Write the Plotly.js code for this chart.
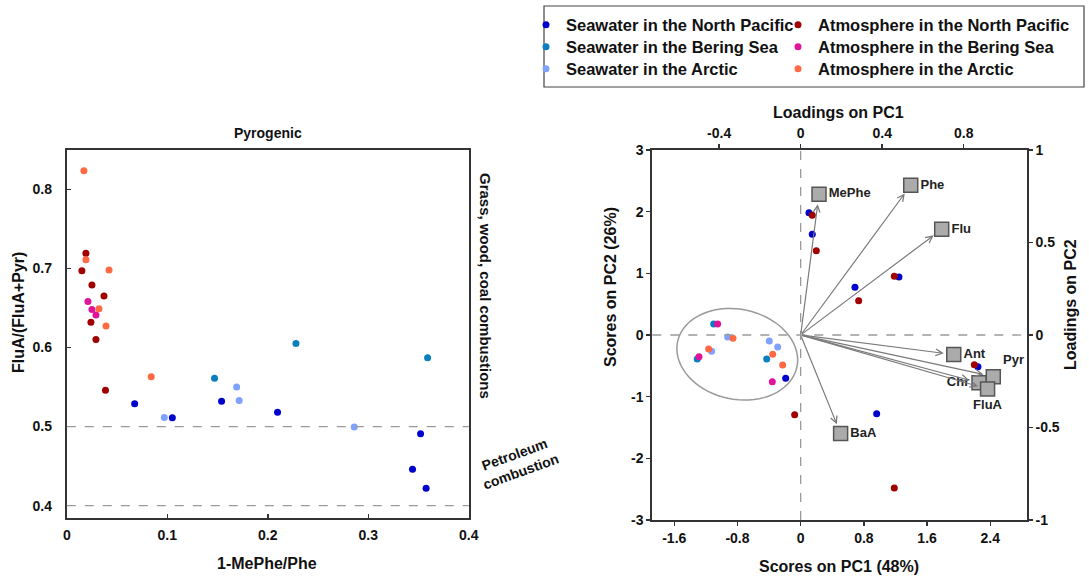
<!DOCTYPE html>
<html>
<head>
<meta charset="utf-8">
<script src="https://cdn.plot.ly/plotly-3.0.1.min.js"></script>
<style>html,body{margin:0;padding:0;background:#fff;} #chart{width:1089px;height:585px;}</style>
</head>
<body>
<div id="chart"></div>
<script>
// ---------- Data ----------
const groupNames = [
  "Seawater in the North Pacific", "Seawater in the Bering Sea", "Seawater in the Arctic",
  "Atmosphere in the North Pacific", "Atmosphere in the Bering Sea", "Atmosphere in the Arctic"
];
const groupColors = ["#0000CC", "#0A7FC0", "#7FA2FF", "#A00000", "#E0149B", "#FF6A45"];

// Left panel: 1-MePhe/Phe (x) vs FluA/(FluA+Pyr) (y)
const ratioX_swNP  = [0.0675, 0.154, 0.105, 0.2097, 0.352, 0.344, 0.3575];
const ratioY_swNP  = [0.529, 0.532, 0.511, 0.518, 0.491, 0.446, 0.422];
const ratioX_swBS  = [0.228, 0.359, 0.147];
const ratioY_swBS  = [0.605, 0.587, 0.561];
const ratioX_swAR  = [0.169, 0.1715, 0.097, 0.286];
const ratioY_swAR  = [0.550, 0.533, 0.5115, 0.4995];
const ratioX_atNP  = [0.019, 0.015, 0.025, 0.037, 0.024, 0.029, 0.0385];
const ratioY_atNP  = [0.719, 0.697, 0.679, 0.665, 0.632, 0.610, 0.546];
const ratioX_atBS  = [0.021, 0.025, 0.029];
const ratioY_atBS  = [0.658, 0.648, 0.641];
const ratioX_atAR  = [0.017, 0.019, 0.042, 0.032, 0.039, 0.084];
const ratioY_atAR  = [0.8235, 0.711, 0.698, 0.649, 0.627, 0.563];
const thresholds   = [0.5, 0.4];

// Right panel: PCA scores
const pc1_swNP = [0.105, 0.147, 0.687, 1.244, 2.244, 0.962, -0.190];
const pc2_swNP = [1.983, 1.633, 0.773, 0.940, -0.513, -1.276, -0.703];
const pc1_swBS = [-1.101, -1.309, -0.430];
const pc2_swBS = [0.178, -0.389, -0.389];
const pc1_swAR = [-0.924, -1.127, -0.397, -0.291];
const pc2_swAR = [-0.032, -0.265, -0.097, -0.195];
const pc1_atNP = [0.147, 0.198, 0.734, 1.185, 2.198, -0.076, 1.185];
const pc2_atNP = [1.94, 1.367, 0.557, 0.951, -0.481, -1.292, -2.481];
const pc1_atBS = [-1.051, -1.287, -0.359];
const pc2_atBS = [0.178, -0.351, -0.757];
const pc1_atAR = [-0.857, -1.165, -0.354, -0.228];
const pc2_atAR = [-0.054, -0.227, -0.314, -0.486];

// PCA loadings
const loadNames = ["MePhe", "Phe", "Flu", "Ant", "Pyr", "Chr", "FluA", "BaA"];
const loadPC1   = [0.090, 0.540, 0.692, 0.751, 0.945, 0.875, 0.917, 0.196];
const loadPC2   = [0.761, 0.809, 0.571, -0.106, -0.225, -0.258, -0.292, -0.533];
const loadTextPos = ["middle right", "middle right", "middle right", "middle right",
                     "top right", "middle left", "bottom center", "middle right"];

// Tick labels
const leftXTicks = [0, 0.1, 0.2, 0.3, 0.4];
const leftXText  = ["0", "0.1", "0.2", "0.3", "0.4"];
const leftYTicks = [0.4, 0.5, 0.6, 0.7, 0.8];
const leftYText  = ["0.4", "0.5", "0.6", "0.7", "0.8"];
const scX = [-1.6, -0.8, 0, 0.8, 1.6, 2.4];
const scXText = ["-1.6", "-0.8", "0", "0.8", "1.6", "2.4"];
const scY = [-3, -2, -1, 0, 1, 2, 3];
const scYText = ["-3", "-2", "-1", "0", "1", "2", "3"];
const ldX = [-0.4, 0, 0.4, 0.8];
const ldXText = ["-0.4", "0", "0.4", "0.8"];
const ldY = [-1, -0.5, 0, 0.5, 1];
const ldYText = ["-1", "-0.5", "0", "0.5", "1"];

// ---------- Build ----------
const FONT = "Liberation Sans, Arial, Helvetica, sans-serif";
const ratioSets = [
  [ratioX_swNP, ratioY_swNP], [ratioX_swBS, ratioY_swBS], [ratioX_swAR, ratioY_swAR],
  [ratioX_atNP, ratioY_atNP], [ratioX_atBS, ratioY_atBS], [ratioX_atAR, ratioY_atAR]
];
const scoreSets = [
  [pc1_swNP, pc2_swNP], [pc1_swBS, pc2_swBS], [pc1_swAR, pc2_swAR],
  [pc1_atNP, pc2_atNP], [pc1_atBS, pc2_atBS], [pc1_atAR, pc2_atAR]
];
const legendIds = ["legend", "legend2", "legend3", "legend4", "legend5", "legend6"];

const traces = [];
groupNames.forEach((name, i) => {
  traces.push({
    type: "scatter", mode: "markers", name: name, legendgroup: "g" + i,
    legend: legendIds[i],
    x: ratioSets[i][0], y: ratioSets[i][1], xaxis: "x", yaxis: "y",
    marker: {color: groupColors[i], size: 7}
  });
});
groupNames.forEach((name, i) => {
  traces.push({
    type: "scatter", mode: "markers", name: name, legendgroup: "g" + i, showlegend: false,
    x: scoreSets[i][0], y: scoreSets[i][1], xaxis: "x2", yaxis: "y2",
    marker: {color: groupColors[i], size: 7}
  });
});
traces.push({
  type: "scatter", mode: "markers+text", showlegend: false,
  x: loadPC1, y: loadPC2, xaxis: "x3", yaxis: "y3",
  text: loadNames, textposition: loadTextPos,
  textfont: {family: FONT, size: 13, color: "#222", weight: "bold"},
  marker: {symbol: "square", size: 14, color: "#ABABAB", line: {color: "#555", width: 1.5}},
  cliponaxis: false
});

// ellipse around the cluster (pixel-based semi axes)
const ell = (function(){
  const cx = -0.8025, cy = -0.313, a = 61, b = 45, th = 12 * Math.PI / 180;
  const pxX = 79, pxY = 61.67;
  let d = "";
  for (let k = 0; k <= 72; k++) {
    const t = k / 72 * 2 * Math.PI;
    const px = a * Math.cos(t) * Math.cos(th) - b * Math.sin(t) * Math.sin(th);
    const py = a * Math.cos(t) * Math.sin(th) + b * Math.sin(t) * Math.cos(th);
    d += (k === 0 ? "M" : "L") + (cx + px / pxX).toFixed(4) + "," + (cy - py / pxY).toFixed(4);
  }
  return d + "Z";
})();

const shapes = [];
thresholds.forEach(v => shapes.push({type: "line", xref: "x domain", yref: "y", x0: 0, x1: 1, y0: v, y1: v,
  line: {color: "#9a9a9a", width: 1.3, dash: "dash"}}));
shapes.push({type: "line", xref: "x2", yref: "y2 domain", x0: 0, x1: 0, y0: 0, y1: 1,
  line: {color: "#9a9a9a", width: 1.3, dash: "dash"}});
shapes.push({type: "line", xref: "x2 domain", yref: "y2", x0: 0, x1: 1, y0: 0, y1: 0,
  line: {color: "#9a9a9a", width: 1.3, dash: "dash"}});
shapes.push({type: "path", xref: "x2", yref: "y2", path: ell, line: {color: "#9a9a9a", width: 1.5}});
shapes.push({type: "rect", xref: "paper", yref: "paper", x0: 544/1089, x1: 1084/1089,
  y0: (585-87)/585, y1: (585-6)/585, line: {color: "#444", width: 1.2}});

const annotations = [];
loadNames.forEach((n, i) => {
  annotations.push({
    xref: "x3", yref: "y3", axref: "x3", ayref: "y3",
    x: loadPC1[i], y: loadPC2[i], ax: 0, ay: 0, text: "",
    showarrow: true, arrowhead: 5, arrowsize: 1.1, arrowwidth: 1.2, arrowcolor: "#7a7a7a", standoff: 10
  });
});
function txt(text, x, y, size, angle, extra) {
  return Object.assign({xref: "paper", yref: "paper", x: x/1089, y: 1 - y/585, text: text,
    showarrow: false, textangle: angle || 0, xanchor: "center", yanchor: "middle",
    font: {family: FONT, size: size, color: "#111", weight: "bold"}}, extra || {});
}
annotations.push(txt("FluA/(FluA+Pyr)", 18, 313, 16, -90));
annotations.push(txt("1-MePhe/Phe", 267, 563, 16, 0));
annotations.push(txt("Pyrogenic", 268, 133, 14, 0));
annotations.push(txt("Grass, wood, coal combustions", 486, 286, 15, 90));
annotations.push(txt("Petroleum<br>combustion", 517, 463, 14, -20));
annotations.push(txt("Scores on PC1 (48%)", 839, 566, 16, 0));
annotations.push(txt("Loadings on PC1", 838, 113, 16, 0));
annotations.push(txt("Scores on PC2 (26%)", 610, 287, 16, -90));
annotations.push(txt("Loadings on PC2", 1070, 305, 16, -90));

const tickFont = {family: FONT, size: 14, color: "#111", weight: "bold"};
const axLine = {showline: true, linecolor: "#333", linewidth: 2, showgrid: false, zeroline: false,
  tickfont: tickFont, tickcolor: "#333", tickwidth: 1.5, ticklen: 4, tickmode: "array"};
const legFont = {family: FONT, size: 16.5, color: "#111", weight: "bold"};

const layout = {
  width: 1089, height: 585,
  margin: {l: 0, r: 0, t: 0, b: 0},
  paper_bgcolor: "#fff", plot_bgcolor: "#fff",
  font: {family: FONT},
  showlegend: true,
  xaxis: Object.assign({}, axLine, {domain: [66.8/1089, 468.8/1089], range: [0, 0.4], anchor: "y",
    mirror: true, ticks: "inside", tickvals: leftXTicks, ticktext: leftXText, ticklabelstandoff: 3}),
  yaxis: Object.assign({}, axLine, {domain: [(585-518.3)/585, (585-150)/585], range: [0.384, 0.8497], anchor: "x",
    mirror: true, ticks: "inside", tickvals: leftYTicks, ticktext: leftYText, ticklabelstandoff: 10}),
  xaxis2: Object.assign({}, axLine, {domain: [652.3/1089, 1026.7/1089], range: [-1.878, 2.861], anchor: "y2",
    ticks: "outside", tickvals: scX, ticktext: scXText}),
  yaxis2: Object.assign({}, axLine, {domain: [(585-520)/585, (585-150)/585], range: [-3, 3], anchor: "x2",
    ticks: "outside", tickvals: scY, ticktext: scYText}),
  xaxis3: Object.assign({}, axLine, {overlaying: "x2", side: "top", anchor: "y2", range: [-0.728, 1.109],
    ticks: "outside", tickvals: ldX, ticktext: ldXText}),
  yaxis3: Object.assign({}, axLine, {overlaying: "y2", side: "right", anchor: "x2", range: [-1, 1],
    ticks: "outside", tickvals: ldY, ticktext: ldYText}),
  shapes: shapes,
  annotations: annotations
};
// one legend per entry, laid out in two columns / three rows
const legCols = [526, 778];
const legRows = [25, 47, 69];
legendIds.forEach((id, i) => {
  layout[id] = {x: legCols[Math.floor(i / 3)] / 1089, y: 1 - legRows[i % 3] / 585,
    xanchor: "left", yanchor: "middle", bgcolor: "rgba(0,0,0,0)", font: legFont, itemwidth: 30};
});

Plotly.newPlot("chart", traces, layout, {displayModeBar: false, staticPlot: true});
</script>
</body>
</html>
